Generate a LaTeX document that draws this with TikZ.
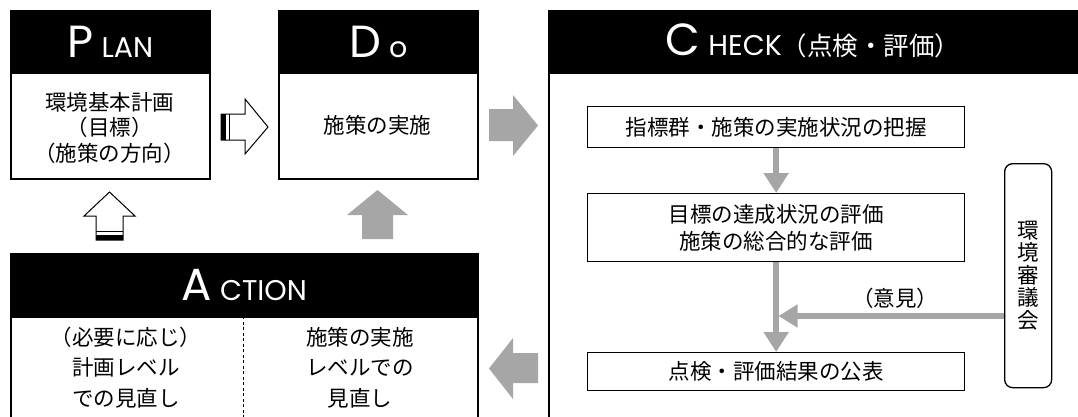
\documentclass[tikz,border=0pt]{standalone}
\usepackage{fontspec}
\setmainfont{Poppins}
\newfontfamily\jp{Noto Sans CJK JP}
\usetikzlibrary{arrows.meta}
\definecolor{arrgray}{HTML}{A6A6A6}
\newcommand{\bigL}[1]{{\fontsize{45}{45}\selectfont #1}}
\newcommand{\smL}[1]{{\fontsize{28.5}{28.5}\selectfont #1}}
\begin{document}
\begin{tikzpicture}[x=1pt,y=-1pt,
  outer/.style={draw=black, fill=white, line width=1.6pt, anchor=north west, inner sep=0pt},
  hdr/.style={draw=black, fill=black, line width=1.6pt, anchor=north west, inner sep=0pt},
  hdrtxt/.style={text=white, inner sep=0pt, anchor=center},
  jptxt/.style={font=\jp\fontsize{21.5}{25.5}\selectfont, align=center, inner sep=0pt},
  inbox/.style={draw=black, fill=white, line width=1.3pt, anchor=north west, inner sep=0pt, align=center, font=\jp\fontsize{21.5}{27}\selectfont},
  hollow/.style={draw=black, fill=white, line width=1pt, line join=miter},
  grayblk/.style={fill=arrgray, draw=none},
  garrow/.style={draw=arrgray, line width=5.5pt, -{Triangle[width=24pt,length=20pt]}},
  garrowh/.style={draw=arrgray, line width=6.5pt, -{Triangle[width=22pt,length=19pt]}}
]
\useasboundingbox (0,0) rectangle (1078,416);

% PLAN
\node[outer, minimum width=199pt, minimum height=168pt] (plan) at (10,10) {};
\node[hdr, minimum width=199pt, minimum height=62pt] (planh) at (10,10) {};
\node[hdrtxt] (plant) at (planh.center) {\bigL{P}\hspace{8pt}\smL{LAN}};
\node[jptxt] (planb) at (109.5,127.5) {環境基本計画\\（目標）\\（施策の方向）};

% DO
\node[outer, minimum width=199pt, minimum height=168pt] (do) at (278,10) {};
\node[hdr, minimum width=199pt, minimum height=62pt] (doh) at (278,10) {};
\node[hdrtxt] (dot) at (doh.center) {\bigL{D}\hspace{8pt}\smL{o}};
\node[jptxt] (dob) at (377.5,125) {施策の実施};

% CHECK
\node[outer, minimum width=540pt, minimum height=420pt] (check) at (548,10) {};
\node[hdr, minimum width=540pt, minimum height=62pt] (checkh) at (548,10) {};
\node[hdrtxt] (checkt) at (813,41) {\bigL{C}\hspace{8pt}\smL{HECK}{\jp\fontsize{25.5}{25.5}\selectfont（点検・評価）}};

% ACTION
\node[outer, minimum width=467pt, minimum height=200pt] (act) at (10,253) {};
\node[hdr, minimum width=467pt, minimum height=63pt] (acth) at (10,253) {};
\node[hdrtxt] (actt) at (acth.center) {\bigL{A}\hspace{8pt}\smL{CTION}};
\coordinate (divtop) at (243,316);
\coordinate (divbot) at (243,420);
\draw[line width=0.7pt, dash pattern=on 3pt off 2.5pt] (divtop) -- (divbot);
\node[jptxt, font=\jp\fontsize{21.5}{30.5}\selectfont] (actl) at (126,367.5) {（必要に応じ）\\計画レベル\\での見直し};
\node[jptxt, font=\jp\fontsize{21.5}{30.5}\selectfont] (actr) at (360,367.5) {施策の実施\\レベルでの\\見直し};

% hollow arrow PLAN -> DO
\draw[hollow] (221,114) -- (245,114) -- (245,99) -- (268,127) -- (245,154) -- (245,140) -- (221,140) -- cycle;
\fill[black] (221,114) rectangle (226,140);
\draw[line width=1pt] (229,114) -- (229,140);

% hollow arrow ACTION -> PLAN
\draw[hollow] (109.5,192) -- (135,216) -- (123,216) -- (123,240) -- (96,240) -- (96,216) -- (84,216) -- cycle;
\fill[black] (96,235) rectangle (123,240);
\draw[line width=1pt] (96,231) -- (123,231);

% gray block arrows
\fill[grayblk] (377.5,190) -- (408,215) -- (393,215) -- (393,239) -- (362,239) -- (362,215) -- (347,215) -- cycle;
\fill[grayblk] (489,109) -- (513,109) -- (513,95) -- (538,125.5) -- (513,156) -- (513,141) -- (489,141) -- cycle;
\fill[grayblk] (538,353) -- (513,353) -- (513,338) -- (489,368.5) -- (513,399) -- (513,383) -- (538,383) -- cycle;

% CHECK contents
\node[inbox, minimum width=377pt, minimum height=41pt] (b1) at (587,106) {指標群・施策の実施状況の把握};
\node[inbox, minimum width=377pt, minimum height=68pt] (b2) at (587,193) {目標の達成状況の評価\\施策の総合的な評価};
\node[inbox, minimum width=377pt, minimum height=38pt] (b3) at (587,352) {点検・評価結果の公表};
\node[draw=black, line width=1.3pt, rounded corners=8pt, anchor=north west, minimum width=47pt, minimum height=224pt, inner sep=0pt] (council) at (1004,163) {};
\node[jptxt, font=\jp\fontsize{21.5}{22.5}\selectfont] (councilt) at (council.center) {環\\境\\審\\議\\会};

\draw[garrow] (b1.south) -- (b2.north);
\draw[garrow] (b2.south) -- (b3.north);
\coordinate (fbend) at (778.5,316);
\draw[garrowh] (council.west |- fbend) -- (fbend);
\node[jptxt] (iken) at (895,298) {（意見）};
\end{tikzpicture}
\end{document}
